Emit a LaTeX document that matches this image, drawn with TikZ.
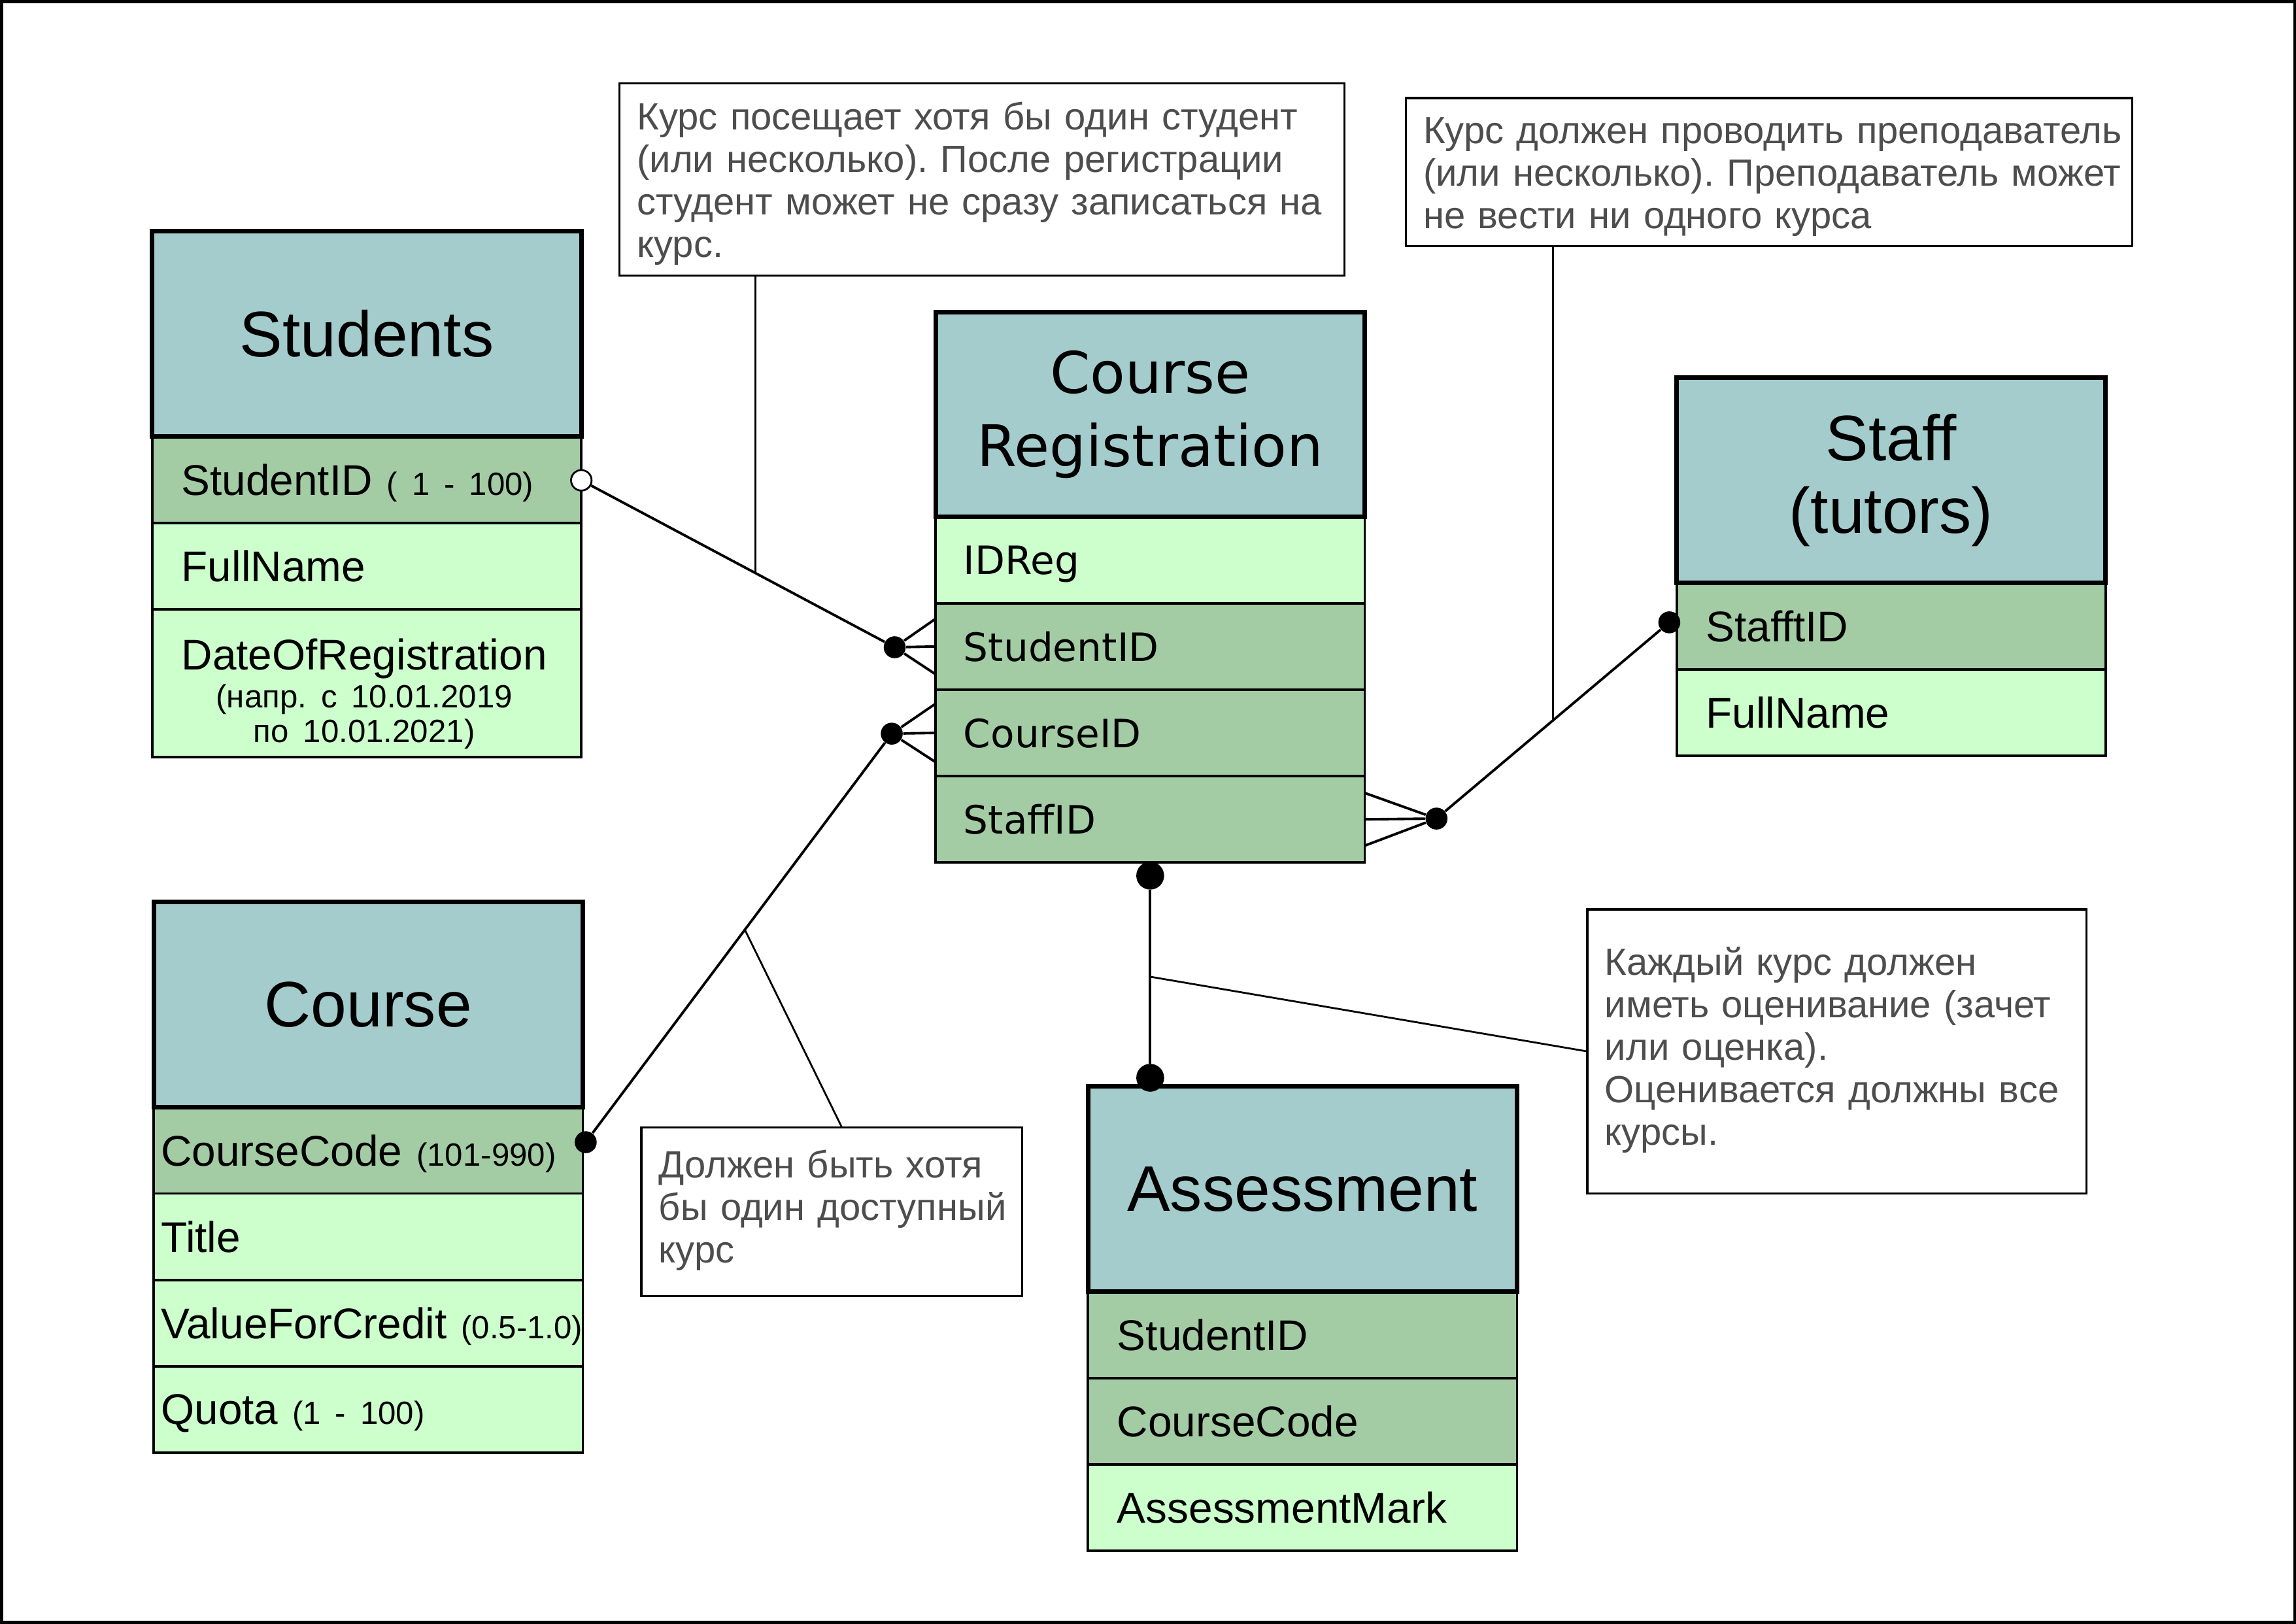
\documentclass[tikz,border=0pt]{standalone}
\usepackage{fontspec}
\setmainfont{Liberation Sans}
\newfontfamily\verdfont{DejaVu Sans}
\usetikzlibrary{positioning,calc}

\definecolor{headc}{RGB}{164,204,204}
\definecolor{keyc}{RGB}{164,204,164}
\definecolor{attrc}{RGB}{204,255,204}
\definecolor{notec}{RGB}{77,77,77}

\newdimen\un \un=0.022398cm
\newcommand\rng[1]{\mbox{\fontsize{14}{16}\selectfont #1}}
\newcommand\lines[1]{\begin{tabular}{@{}l@{}}#1\end{tabular}}

\begin{document}
\frenchspacing
\begin{tikzpicture}[x=0.022398cm, y=-0.022398cm,
    tab/.style={draw, line width=2pt, fill=headc, minimum width=293\un, minimum height=140\un,
        align=center, inner sep=0pt, outer sep=0pt, font=\fontsize{28}{31.5}\selectfont},
    fld/.style={draw, line width=1.1pt, minimum width=293\un, minimum height=59\un,
        text width=253\un, inner xsep=20\un, inner ysep=0pt, outer sep=0pt, align=left,
        text depth=0pt, font=\fontsize{18.7}{22}\selectfont},
    key/.style={fld, fill=keyc},
    attr/.style={fld, fill=attrc},
    cr/.style={font=\verdfont\fontsize{17}{20}\selectfont, inner xsep=19\un, text width=255\un},
    crhead/.style={font=\verdfont\fontsize{25}{32}\selectfont},
    crs/.style={inner xsep=5\un, text width=283\un},
    note/.style={draw, line width=0.9pt, anchor=north west, align=left, inner xsep=12\un,
        inner ysep=0pt, outer sep=0pt, text=notec, font=\fontsize{16.5}{18.5}\selectfont},
    dot/.style={circle, fill, inner sep=0pt, minimum size=15\un},
    bigdot/.style={dot, minimum size=19\un},
    odot/.style={circle, draw, fill=white, line width=0.8pt, inner sep=0pt, minimum size=14\un},
    rel/.style={line width=1.1pt},
    hint/.style={line width=0.8pt}]

    \useasboundingbox (0,0) rectangle (1568,1109);
    \draw[line width=1.3pt] (1,1) rectangle (1567,1108);

    % Students
    \node[key, anchor=north west] (sid) at (104,298) {StudentID~\rng{( 1 - 100)}};
    \node[tab, above=0pt of sid] (stud) {Students};
    \node[attr, below=0pt of sid] (sname) {FullName};
    \node[attr, below=0pt of sname, minimum height=101\un, text height=35pt, text depth=15pt] (sdate)
        {\begin{tabular}{@{}c@{}}DateOfRegistration\\[-5.5pt] \rng{(напр. с 10.01.2019}\\[-7pt] \rng{по 10.01.2021)}\end{tabular}};

    % Course Registration
    \node[attr, cr, anchor=north west] (crid) at (639,353) {IDReg};
    \node[tab, crhead, above=0pt of crid] (creg) {Course\\Registration};
    \node[key, cr, below=0pt of crid] (crstud) {StudentID};
    \node[key, cr, below=0pt of crstud] (crcourse) {CourseID};
    \node[key, cr, below=0pt of crcourse] (crstaff) {StaffID};

    % Staff
    \node[key, anchor=north west] (stid) at (1145,398) {StafftID};
    \node[tab, above=0pt of stid] (staff) {Staff\\(tutors)};
    \node[attr, below=0pt of stid] (stname) {FullName};

    % Course
    \node[key, crs, anchor=north west] (ccode) at (105,756) {CourseCode~\rng{(101-990)}};
    \node[tab, above=0pt of ccode] (course) {Course};
    \node[attr, crs, below=0pt of ccode] (ctitle) {Title};
    \node[attr, crs, below=0pt of ctitle] (ccredit) {ValueForCredit~\rng{(0.5-1.0)}};
    \node[attr, crs, below=0pt of ccredit] (cquota) {Quota~\rng{(1 - 100)}};

    % Assessment
    \node[key, anchor=north west] (asid) at (743,882) {StudentID};
    \node[tab, above=0pt of asid] (assess) {Assessment};
    \node[key, below=0pt of asid] (acode) {CourseCode};
    \node[attr, below=0pt of acode] (amark) {AssessmentMark};

    % relationship ends
    \node[odot] (sdot) at (397,328) {};
    \node[dot] (d1) at (611,442) {};
    \node[dot] (d2) at (609,501) {};
    \node[dot] (cdot) at (400,780) {};
    \node[dot] (d3) at (981,559) {};
    \node[dot] (stdot) at (1140,425) {};
    \node[bigdot] (d4) at ([yshift=-9\un]crstaff.south) {};
    \node[bigdot] (d5) at ($(d4 |- assess.north)+(0,-6)$) {};

    % Students - Course Registration
    \draw[rel] (sdot) -- (d1);
    \draw[rel] (d1) -- ([yshift=19\un]crstud.west) (d1) -- (crstud.west) (d1) -- ([yshift=-19\un]crstud.west);

    % Course - Course Registration
    \draw[rel] (cdot) -- (d2);
    \draw[rel] (d2) -- ([yshift=20\un]crcourse.west) (d2) -- (crcourse.west) (d2) -- ([yshift=-20\un]crcourse.west);

    % Staff - Course Registration
    \draw[rel] (stdot) -- (d3);
    \draw[rel] (d3) -- ([yshift=18\un]crstaff.east) (d3) -- (crstaff.east) (d3) -- ([yshift=-18\un]crstaff.east);

    % Course Registration - Assessment
    \draw[rel] (d4) -- (d5);

    % notes
    \node[note, text width=471\un, minimum height=131\un, text height=35.6pt, text depth=22pt] (n1) at (423,57)
        {\lines{Курс посещает хотя бы один студент\\(или несколько). После регистрации\\студент может не сразу записаться на\\курс.}};
    \node[note, text width=472\un, minimum height=101\un, text height=30pt, text depth=16.4pt] (n2) at (960,67)
        {\lines{Курс должен проводить преподаватель\\(или несколько). Преподаватель может\\не вести ни одного курса}};
    \node[note, text width=317\un, minimum height=194\un] (n3) at (1084,621)
        {\lines{Каждый курс должен\\иметь оценивание (зачет\\или оценка).\\Оценивается должны все\\курсы.}};
    \node[note, text width=236\un, minimum height=115\un] (n4) at (438,770)
        {\lines{Должен быть хотя\\бы один доступный\\курс}};

    \coordinate (h1) at ($(sdot)!0.556!(d1)$);
    \coordinate (h2) at ($(stdot)!0.5!(d3)$);
    \coordinate (h3) at ($(d4)!0.5!(d5)$);
    \coordinate (h4) at ($(cdot)!0.52!(d2)$);
    \draw[hint] (n1.south -| h1) -- (h1);
    \draw[hint] (n2.south -| h2) -- (h2);
    \draw[hint] (n3.west) -- (h3);
    \draw[hint] ([xshift=7\un]n4.north) -- (h4);
\end{tikzpicture}
\end{document}
